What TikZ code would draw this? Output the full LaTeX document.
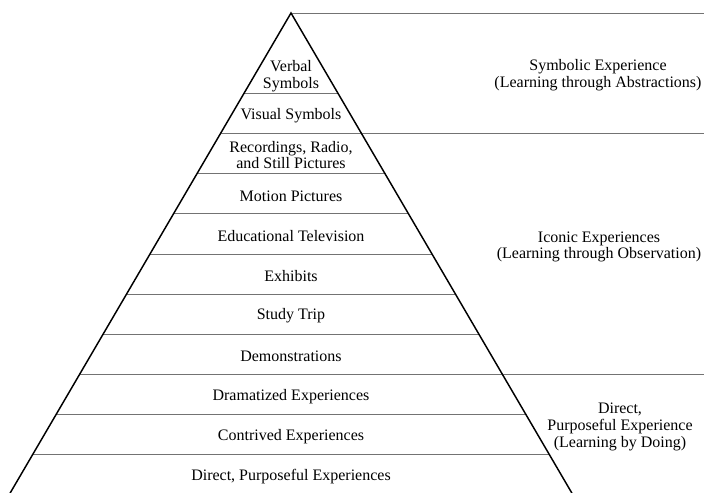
\documentclass[tikz,border=0pt]{standalone}
\usepackage{fontspec}
\setmainfont{Liberation Serif}
\usetikzlibrary{calc}
\tikzset{
  levellabel/.style={align=center,inner sep=1pt,font=\fontsize{12}{12.5}\selectfont},
  grouplabel/.style={align=center,inner sep=1pt,font=\fontsize{12}{12.5}\selectfont},
  sideline/.style={draw=black,line width=1.1pt},
  levelline/.style={draw=black!55,line width=0.75pt}
}
\begin{document}
\begin{tikzpicture}[x=0.75pt,y=-0.75pt]
  \useasboundingbox (0,0) rectangle (704,493);
  \coordinate (apex) at (291,13);
  \coordinate (baseleft) at (9,495);
  \coordinate (baseright) at (573,495);
  \coordinate (edge) at (704,13);
  % level lines
  \foreach \k in {2,...,11}
    \path ($(apex)!\k/12!(baseleft)$) coordinate (left\k)
          ($(apex)!\k/12!(baseright)$) coordinate (right\k);
  \draw[levelline] (apex) -- (edge);
  \foreach \k in {2,4,5,6,7,8,10,11}
    \draw[levelline] (left\k) -- (right\k);
  \foreach \k in {3,9}
    \draw[levelline] (left\k) -- (right\k -| edge);
  \draw[sideline] (baseleft) -- (apex) -- (baseright);
  % levels of the cone
  \node[levellabel] (verbal) at (291,76) {Verbal\\Symbols};
  \node[levellabel] (visual) at (291,116) {Visual Symbols};
  \node[levellabel] (recordings) at (291,155) {Recordings, Radio,\\and Still Pictures};
  \node[levellabel] (motion) at (291,196) {Motion Pictures};
  \node[levellabel] (television) at (291,236) {Educational Television};
  \node[levellabel] (exhibits) at (291,276) {Exhibits};
  \node[levellabel] (trip) at (291,316) {Study Trip};
  \node[levellabel] (demos) at (291,356) {Demonstrations};
  \node[levellabel] (dramatized) at (291,397) {Dramatized Experiences};
  \node[levellabel] (contrived) at (291,437) {Contrived Experiences};
  \node[levellabel] (direct) at (291,477) {Direct, Purposeful Experiences};
  % groups
  \node[grouplabel] (symbolic) at (598,75) {Symbolic Experience\\(Learning through Abstractions)};
  \node[grouplabel] (iconic) at (599,247) {Iconic Experiences\\(Learning through Observation)};
  \node[grouplabel] (purposeful) at (620,427) {Direct,\\Purposeful Experience\\(Learning by Doing)};
\end{tikzpicture}
\end{document}
